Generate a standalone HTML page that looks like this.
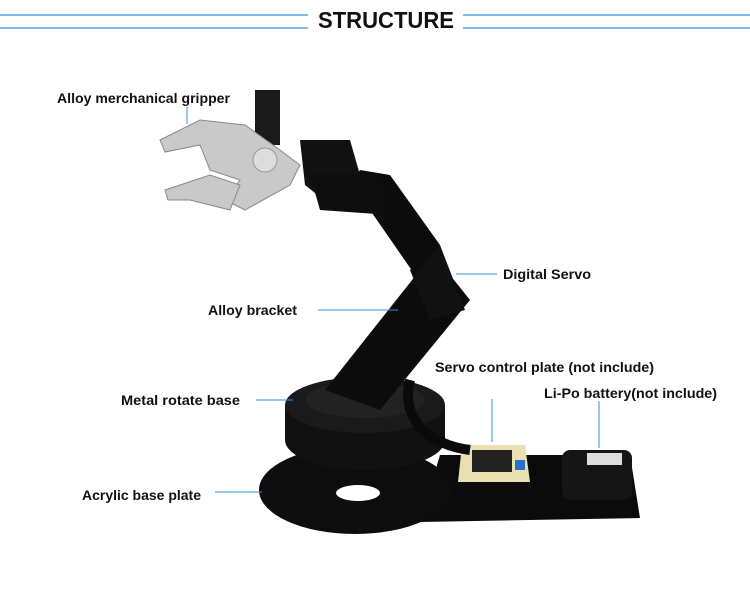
<!DOCTYPE html>
<html><head><style>
html,body{margin:0;padding:0;background:#fff;width:750px;height:601px;overflow:hidden}
text{font-family:"Liberation Sans",sans-serif;font-weight:bold;font-size:14px;fill:#111}
</style></head><body>
<svg width="750" height="601" viewBox="0 0 750 601" xmlns="http://www.w3.org/2000/svg">
<line x1="0" y1="15" x2="308" y2="15" stroke="#3b8ed8" stroke-width="1.3"/>
<line x1="0" y1="28" x2="308" y2="28" stroke="#3b8ed8" stroke-width="1.3"/>
<line x1="463" y1="15" x2="750" y2="15" stroke="#3b8ed8" stroke-width="1.3"/>
<line x1="463" y1="28" x2="750" y2="28" stroke="#3b8ed8" stroke-width="1.3"/>
<text x="386" y="28" text-anchor="middle" style="font-size:23px;font-weight:bold" textLength="136" lengthAdjust="spacingAndGlyphs">STRUCTURE</text>

<!-- base plate -->
<polygon points="440,455 630,455 640,518 420,522" fill="#0b0b0b"/>
<ellipse cx="355" cy="490" rx="96" ry="44" fill="#0d0d0d"/>
<ellipse cx="358" cy="493" rx="22" ry="8" fill="#fff"/>
<!-- rotate base -->
<ellipse cx="365" cy="440" rx="80" ry="30" fill="#111"/>
<rect x="285" y="405" width="160" height="35" fill="#111"/>
<ellipse cx="365" cy="405" rx="80" ry="28" fill="#1a1a1a"/>
<ellipse cx="365" cy="400" rx="60" ry="18" fill="#222"/>
<!-- board -->
<polygon points="462,445 525,445 530,482 458,482" fill="#e8e0b0"/>
<rect x="472" y="450" width="40" height="22" fill="#222"/>
<rect x="515" y="460" width="10" height="10" fill="#2a6fd0"/>
<!-- battery -->
<rect x="562" y="450" width="70" height="50" rx="8" fill="#151515"/>
<rect x="587" y="453" width="35" height="12" fill="#ddd"/>
<!-- arm lower -->
<polygon points="325,390 380,410 470,300 450,275 420,270" fill="#0c0c0c"/>
<polygon points="410,270 440,245 465,310 430,320" fill="#111"/>
<!-- cable -->
<path d="M470,450 C430,445 400,420 410,380" stroke="#0a0a0a" stroke-width="10" fill="none"/>
<!-- arm upper -->
<polygon points="360,170 390,175 440,245 415,275 370,210 345,195" fill="#0c0c0c"/>
<polygon points="300,140 350,140 360,175 330,205 305,185" fill="#111"/>
<polygon points="310,175 380,175 390,215 320,210" fill="#0d0d0d"/>
<!-- gripper servo -->
<rect x="255" y="90" width="25" height="55" fill="#1a1a1a"/>
<!-- gripper -->
<polygon points="160,140 200,120 245,125 280,150 300,165 290,185 245,210 225,200 240,180 210,170 200,145 165,152" fill="#c9c9c9" stroke="#888"/>
<polygon points="165,190 210,175 240,185 230,210 190,200 168,200" fill="#c9c9c9" stroke="#888"/>
<circle cx="265" cy="160" r="12" fill="#ddd" stroke="#999"/>

<!-- leader lines -->
<g stroke="#3b8ed8" stroke-width="1">
<line x1="187" y1="107" x2="187" y2="124"/>
<line x1="456" y1="274" x2="497" y2="274"/>
<line x1="318" y1="310" x2="398" y2="310"/>
<line x1="256" y1="400" x2="293" y2="400"/>
<line x1="492" y1="399" x2="492" y2="442"/>
<line x1="599" y1="401" x2="599" y2="448"/>
<line x1="215" y1="492" x2="262" y2="492"/>
</g>
<text x="57" y="103" textLength="173" lengthAdjust="spacingAndGlyphs">Alloy merchanical gripper</text>
<text x="503" y="279" textLength="88" lengthAdjust="spacingAndGlyphs">Digital Servo</text>
<text x="208" y="315" textLength="89" lengthAdjust="spacingAndGlyphs">Alloy bracket</text>
<text x="435" y="372" textLength="219" lengthAdjust="spacingAndGlyphs">Servo control plate (not include)</text>
<text x="121" y="405" textLength="119" lengthAdjust="spacingAndGlyphs">Metal rotate base</text>
<text x="544" y="398" textLength="173" lengthAdjust="spacingAndGlyphs">Li-Po battery(not include)</text>
<text x="82" y="500" textLength="119" lengthAdjust="spacingAndGlyphs">Acrylic base plate</text>
</svg>
</body></html>
